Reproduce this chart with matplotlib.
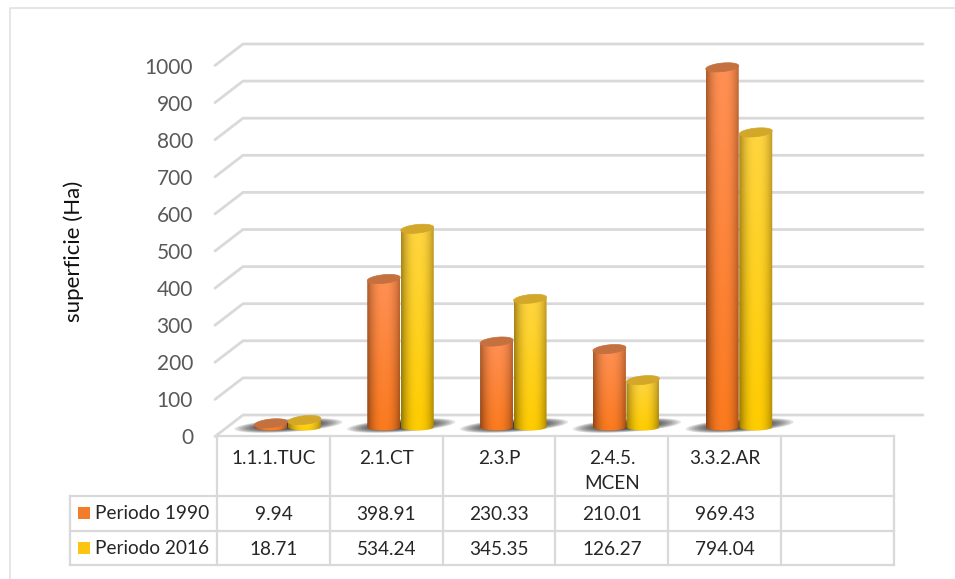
import numpy as np
import matplotlib
matplotlib.use('Agg')
import matplotlib.pyplot as plt
from matplotlib.patches import Polygon, Rectangle

categories = ['1.1.1.TUC', '2.1.CT', '2.3.P', '2.4.5.\nMCEN', '3.3.2.AR']
periodo_1990 = [9.94, 398.91, 230.33, 210.01, 969.43]
periodo_2016 = [18.71, 534.24, 345.35, 126.27, 794.04]
value_labels_1990 = ['9.94', '398.91', '230.33', '210.01', '969.43']
value_labels_2016 = ['18.71', '534.24', '345.35', '126.27', '794.04']
y_ticks = [0, 100, 200, 300, 400, 500, 600, 700, 800, 900, 1000]

plt.rcParams['font.family'] = ['Lato', 'DejaVu Sans']

W, H = 955, 579
COL = 112.83      # px per category
PX_V = 0.371      # px per unit
X0, Y0 = 217, 415 # px of x=0 and value 0 on back wall
LINE = '#d9d9d9'

fig = plt.figure(figsize=(W / 100, H / 100), dpi=100)
page = fig.add_axes([0, 0, 1, 1])
page.set_xlim(0, W)
page.set_ylim(H, 0)
page.axis('off')

ax = fig.add_axes([0, 0, 1, 1])
ax.set_xlim(-X0 / COL, (W - X0) / COL)
ax.set_ylim((Y0 - H) / PX_V, Y0 / PX_V)
ax.axis('off')
ax.patch.set_alpha(0)

# outer frame
page.plot([10, 10, W], [H, 8, 8], color='#e2e2e2', lw=1.2)

# back wall and side wall gridlines
left_x = -2 / COL
back_x = 26 / COL
depth_y = -21.5 / PX_V
for v in y_ticks:
    ax.plot([left_x, back_x, (923 - X0) / COL], [v + depth_y, v, v],
            color=LINE, lw=2, solid_capstyle='round', zorder=1)


def ellipse(cx, cy, a, b, tilt=0.0):
    t = np.linspace(0, 2 * np.pi, 90)
    return np.column_stack([cx + a * np.cos(t), cy + b * np.sin(t) + tilt * np.cos(t)])


def cylinder(cx, value, c_top, c_bot, edge_top, edge_bot, cap, z):
    a = 16.5 / COL
    base = -12 / PX_V
    top = value + base
    b_top = 4.3 / PX_V
    b_bot = 3.5 / PX_V
    tilt = 1.6 / PX_V
    bottom = ellipse(cx, base, a, b_bot)
    lower = bottom[bottom[:, 1] <= base + 1e-6]
    lower = lower[np.argsort(lower[:, 0])]
    outline = np.vstack([[[cx - a, top - tilt]], lower, [[cx + a, top + tilt]]])
    clip = Polygon(outline, closed=True, transform=ax.transData)
    u = np.linspace(-1, 1, 60)
    shade = np.abs(u - 0.05)[None, :, None] ** 2.4
    f = np.linspace(0, 1, 40)[:, None, None]
    centre = (1 - f) * np.array(c_top) + f * np.array(c_bot)
    rim = (1 - f) * np.array(edge_top) + f * np.array(edge_bot)
    img = (1 - shade) * centre + shade * rim
    im = ax.imshow(img, extent=[cx - a, cx + a, base - b_bot, top + tilt], origin='upper',
                   aspect='auto', interpolation='bilinear', zorder=z)
    ax.add_patch(clip)
    clip.set_visible(False)
    im.set_clip_path(clip)
    ax.add_patch(Polygon(ellipse(cx, top, a, b_top, tilt), closed=True, facecolor=cap,
                         edgecolor=cap, lw=0.5, zorder=z + 0.5))


def rgb(c):
    return matplotlib.colors.to_rgb(c)


# bars, with their floor shadow
for i in range(len(categories)):
    mid = i + 0.5
    sh_c = mid + 15 / COL
    for s in np.linspace(1, 0.3, 14):
        ax.add_patch(Polygon(ellipse(sh_c, -10.5 / PX_V, s * 54 / COL, s * 6.5 / PX_V, s * 3.5 / PX_V),
                             closed=True, facecolor='#1a1a1a', edgecolor='none', alpha=0.12, zorder=2))
    cylinder(mid - 2.5 / COL, periodo_1990[i], rgb('#ff9055'), rgb('#fb7a1e'),
             rgb('#b5602f'), rgb('#9c4a14'), '#c4703f', 3 + i)
    cylinder(mid + 31 / COL, periodo_2016[i], rgb('#ffd540'), rgb('#ffcc00'),
             rgb('#b38f22'), rgb('#a07f00'), '#d2a72a', 3.7 + i)

# y axis labels
for v in y_ticks:
    ax.annotate(str(v), xy=(left_x, v + depth_y), xytext=(-22, -2), textcoords='offset pixels',
                ha='right', va='center', fontsize=15, color='#595959')
page.text(74, 251, 'superficie (Ha)', rotation=90, ha='center', va='center', fontsize=16, color='#111111')

# data table
col_x = [X0 + COL * i for i in range(7)]
for y in [436, 496, 531, 565]:
    page.plot([70 if y > 440 else X0, col_x[-1]], [y, y], color=LINE, lw=1.6, solid_capstyle='projecting')
for x in col_x:
    page.plot([x, x], [436, 565], color=LINE, lw=1.6, solid_capstyle='projecting')
page.plot([70, 70], [496, 565], color=LINE, lw=1.6, solid_capstyle='projecting')

TXT = '#262626'
FS = 13.7
for i, name in enumerate(categories):
    c = col_x[i] + COL / 2
    parts = name.split('\n')
    for j, p in enumerate(parts):
        page.text(c, 458.5 + 25 * j, p, ha='center', va='center', fontsize=FS, color=TXT)
    page.text(c, 514.5, value_labels_1990[i], ha='center', va='center', fontsize=FS, color=TXT)
    page.text(c, 549.5, value_labels_2016[i], ha='center', va='center', fontsize=FS, color=TXT)

for y, label, colour in [(513, 'Periodo 1990', '#f47b2a'), (548, 'Periodo 2016', '#fdc412')]:
    page.add_patch(Rectangle((78, y - 6), 12, 12, facecolor=colour, edgecolor='none'))
    page.text(95, y + 0.5, label, ha='left', va='center', fontsize=FS, color=TXT)

fig.savefig('out.png', dpi=100)
